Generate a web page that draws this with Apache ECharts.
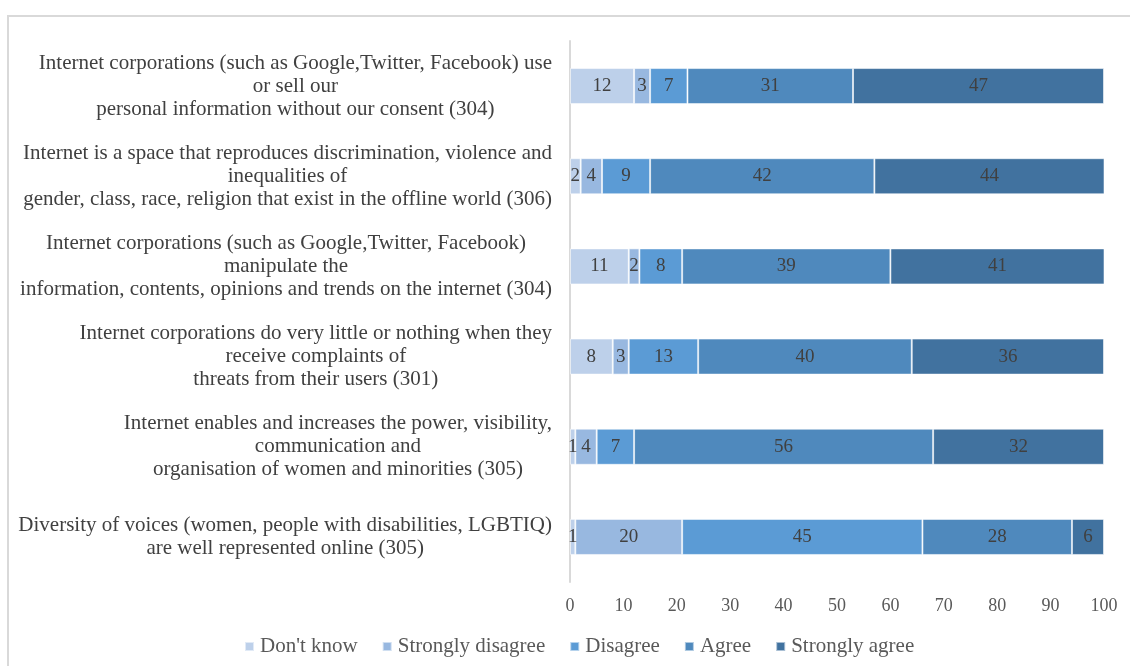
<!DOCTYPE html>
<html>
<head>
<meta charset="utf-8">
<script src="https://cdn.jsdelivr.net/npm/echarts@6/dist/echarts.min.js"></script>
<style>
  html, body { margin: 0; padding: 0; background: #ffffff; }
  #chart { width: 1130px; height: 666px; }
</style>
</head>
<body>
<div id="chart"></div>
<script>
// Survey statements, top to bottom
const statements = [
  "Internet corporations (such as Google,Twitter, Facebook) use\nor sell our\npersonal information without our consent (304)",
  "Internet is a space that reproduces discrimination, violence and\ninequalities of\ngender, class, race, religion that exist in the offline world (306)",
  "Internet corporations (such as Google,Twitter, Facebook)\nmanipulate the\ninformation, contents, opinions and trends on the internet (304)",
  "Internet corporations do very little or nothing when they\nreceive complaints of\nthreats from their users (301)",
  "Internet enables and increases the power, visibility,\ncommunication and\norganisation of women and minorities (305)",
  "Diversity of voices (women, people with disabilities, LGBTIQ)\nare well represented online (305)"
];

// Share of answers (%) per statement
const dontKnow         = [12, 2, 11, 8, 1, 1];
const stronglyDisagree = [3, 4, 2, 3, 4, 20];
const disagree         = [7, 9, 8, 13, 7, 45];
const agree            = [31, 42, 39, 40, 56, 28];
const stronglyAgree    = [47, 44, 41, 36, 32, 6];

const xTicks = [0, 10, 20, 30, 40, 50, 60, 70, 80, 90, 100];

const seriesDefs = [
  { name: "Don't know",        data: dontKnow,         color: '#bdd0ea' },
  { name: 'Strongly disagree', data: stronglyDisagree, color: '#98b8e0' },
  { name: 'Disagree',          data: disagree,         color: '#5b9bd5' },
  { name: 'Agree',             data: agree,            color: '#4f89bd' },
  { name: 'Strongly agree',    data: stronglyAgree,    color: '#41729f' }
];

const serif = '"Liberation Serif", "Times New Roman", serif';

const chart = echarts.init(document.getElementById('chart'), null, { renderer: 'canvas' });

chart.setOption({
  backgroundColor: '#ffffff',
  animation: false,
  textStyle: { fontFamily: serif },
  graphic: [{
    type: 'rect',
    shape: { x: 8, y: 16, width: 1200, height: 800 },
    style: { fill: 'none', stroke: '#d9d9d9', lineWidth: 2 },
    silent: true
  }],
  legend: {
    data: seriesDefs.map(s => s.name),
    left: 239,
    top: 631,
    itemWidth: 9,
    itemHeight: 9,
    itemGap: 24,
    icon: 'rect',
    textStyle: { fontFamily: serif, fontSize: 21, color: '#595959', padding: [0, 0, 0, 1] }
  },
  grid: { left: 570, right: 26, top: 41, bottom: 84, containLabel: false },
  xAxis: {
    type: 'value',
    min: 0,
    max: 100,
    interval: 10,
    axisLine: { show: false },
    axisTick: { show: false },
    splitLine: { show: false },
    axisLabel: {
      fontFamily: serif,
      fontSize: 18,
      color: '#595959',
      margin: 15,
      formatter: v => (xTicks.indexOf(v) >= 0 ? String(v) : '')
    }
  },
  yAxis: {
    type: 'category',
    inverse: true,
    data: statements,
    axisLine: { show: true, lineStyle: { color: '#d9d9d9', width: 2 } },
    axisTick: { show: false },
    axisLabel: {
      margin: 18,
      formatter: v => v.split('\n').map(line => '{c|' + line + '}').join('\n'),
      rich: {
        c: {
          align: 'center',
          fontFamily: serif,
          fontSize: 21,
          lineHeight: 23,
          color: '#404040'
        }
      }
    }
  },
  series: seriesDefs.map(s => ({
    name: s.name,
    type: 'bar',
    stack: 'total',
    barWidth: '40%',
    data: s.data,
    itemStyle: { color: s.color, borderColor: 'rgba(255,255,255,0.55)', borderWidth: 1 },
    label: {
      show: true,
      position: 'inside',
      fontFamily: serif,
      fontSize: 19,
      color: '#404040'
    }
  }))
});
</script>
</body>
</html>
